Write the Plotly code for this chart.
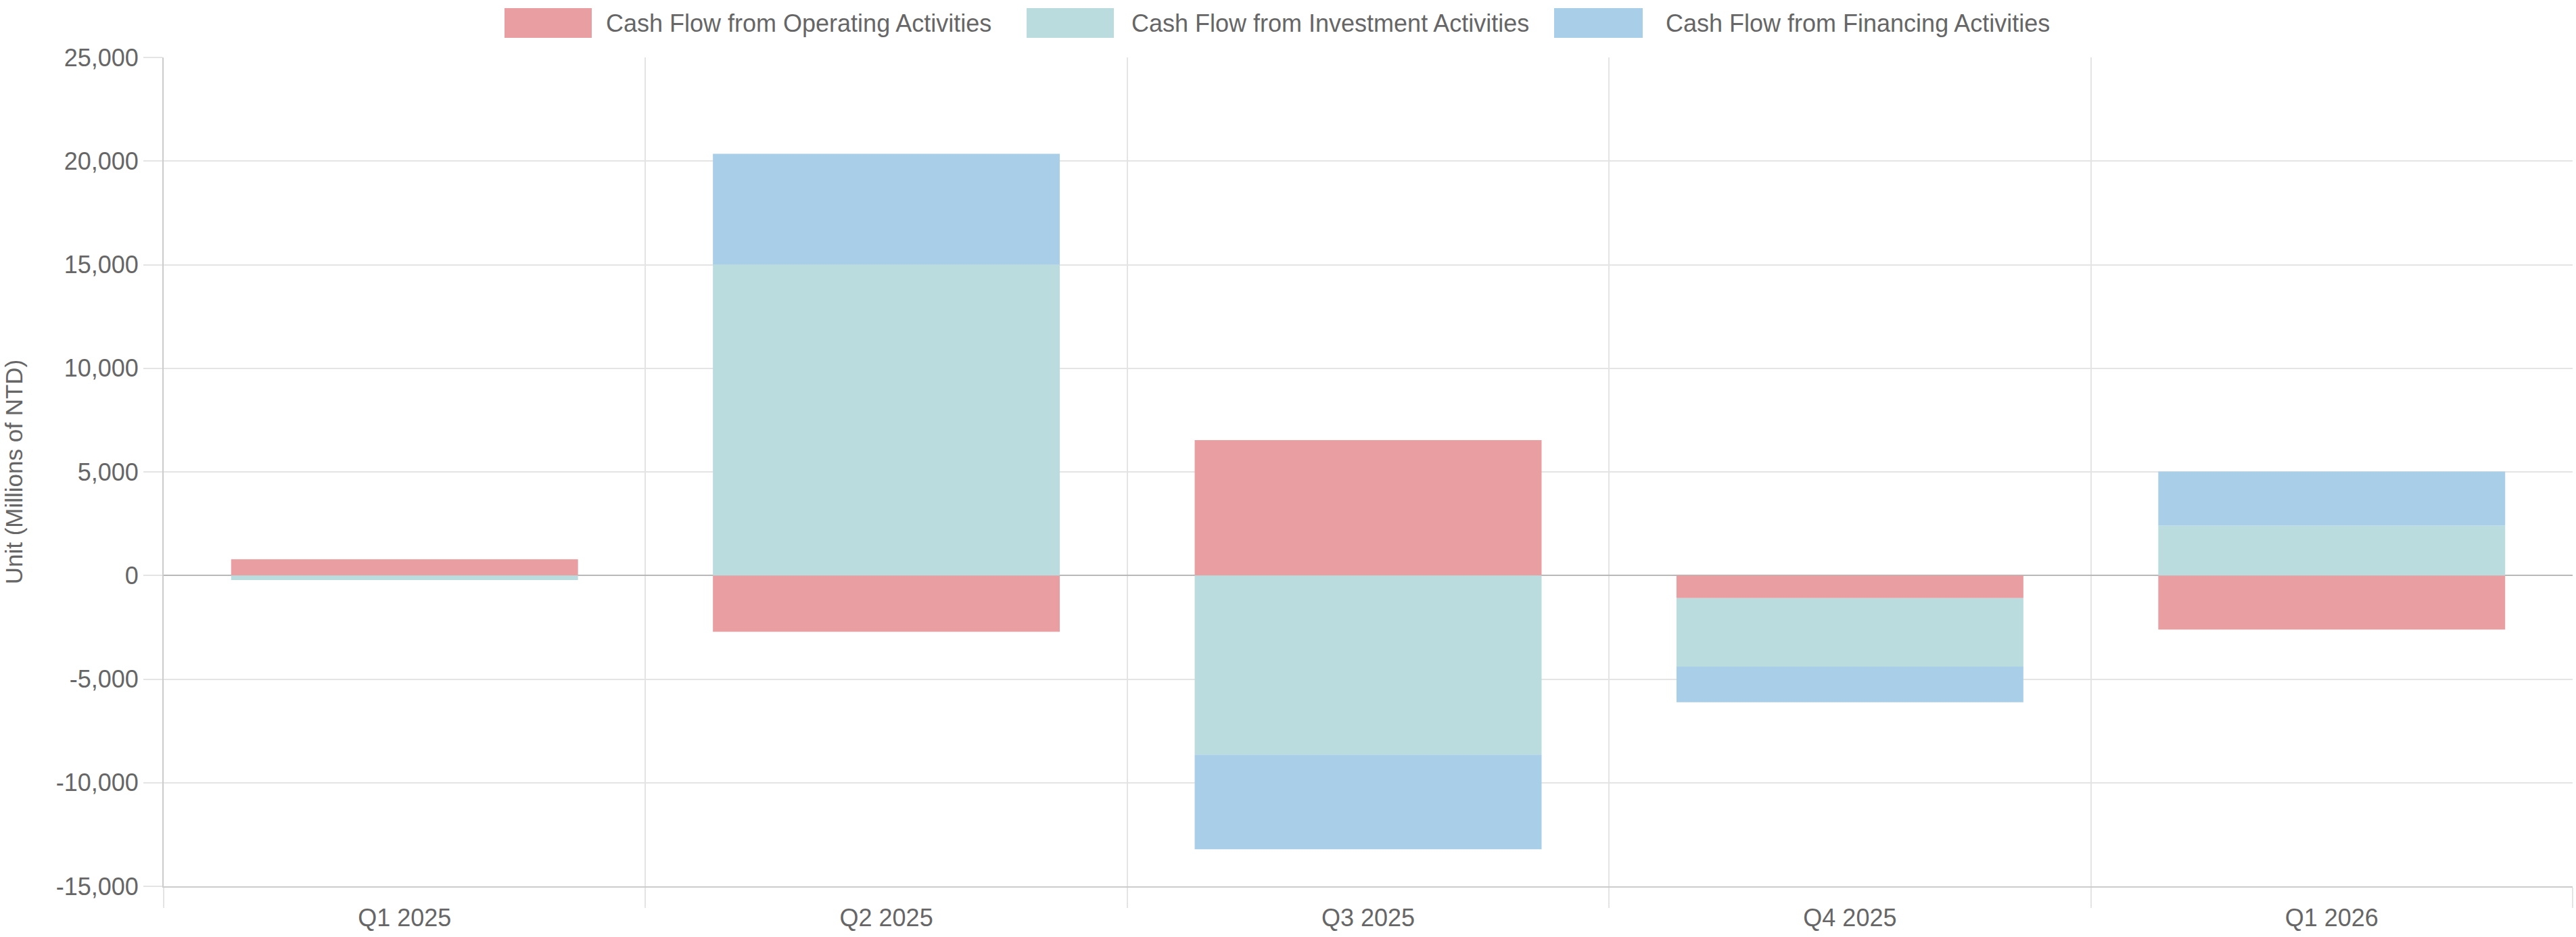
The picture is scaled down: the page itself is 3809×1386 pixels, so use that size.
import plotly.graph_objects as go

# ---- data (millions of NTD) ----
categories = ["Q1 2025", "Q2 2025", "Q3 2025", "Q4 2025", "Q1 2026"]
operating = [780, -2720, 6530, -1090, -2610]
investment = [-220, 15000, -8650, -3310, 2410]
financing = [0, 5350, -4560, -1720, 2610]

series_names = [
    "Cash Flow from Operating Activities",
    "Cash Flow from Investment Activities",
    "Cash Flow from Financing Activities",
]
series_values = [operating, investment, financing]
colors = ["#E99EA2", "#BADCDE", "#A8CEE8"]

y_ticks = list(range(-15000, 25001, 5000))

# ---- layout geometry ----
W, H = 3809, 1386
L, R, T, B = 242, 5, 85, 75
PW, PH = W - L - R, H - T - B
FONT = "Liberation Sans, Arial, Helvetica, sans-serif"
TXT = "#666666"
GRID = "#e4e4e4"


def px_x(px):
    return (px - L) / PW


def px_y(py):
    return (H - B - py) / PH


xs = list(range(len(categories)))

fig = go.Figure()
for name, vals, col in zip(series_names, series_values, colors):
    fig.add_trace(go.Bar(
        x=xs, y=vals, name=name,
        marker=dict(color=col, line=dict(width=0)),
        showlegend=False,
    ))

fig.update_layout(
    width=W, height=H,
    margin=dict(l=L, r=R, t=T, b=B, autoexpand=False),
    barmode="relative",
    bargap=0.28,
    plot_bgcolor="white",
    paper_bgcolor="white",
    font=dict(family=FONT, size=36, color=TXT),
    showlegend=False,
)

fig.update_xaxes(
    range=[-0.5, len(categories) - 0.5],
    tickmode="array", tickvals=xs, ticktext=categories,
    ticks="outside", ticklen=14, tickcolor="rgba(0,0,0,0)",
    showgrid=False, zeroline=False,
    showline=True, linecolor="#cccccc", linewidth=2,
    tickfont=dict(size=36, color=TXT),
    minor=dict(tick0=-0.5, dtick=1, showgrid=True, gridcolor=GRID, gridwidth=2,
               ticks="outside", ticklen=30, tickcolor=GRID, tickwidth=2),
    automargin=False,
)

fig.update_yaxes(
    range=[-15000, 25000],
    tickmode="array", tickvals=y_ticks,
    ticktext=[f"{v:,}" for v in y_ticks],
    ticks="outside", ticklen=28, tickcolor=GRID, tickwidth=2,
    showgrid=True, gridcolor=GRID, gridwidth=2,
    zeroline=True, zerolinecolor="#b8b8b8", zerolinewidth=2,
    showline=True, linecolor="#cccccc", linewidth=2,
    tickfont=dict(size=36, color=TXT),
    title=dict(text="Unit (Millions of NTD)", font=dict(size=35, color=TXT), standoff=38),
    automargin=False,
)

# ---- custom legend (wide boxes like the original) ----
legend_boxes = [(746, 875, 894), (1518, 1647, 1671), (2298, 2429, 2461)]
for (x0, x1, tx), name, col in zip(legend_boxes, series_names, colors):
    fig.add_shape(type="rect", xref="paper", yref="paper",
                  x0=px_x(x0), x1=px_x(x1), y0=px_y(56), y1=px_y(12),
                  fillcolor=col, line=dict(width=0), layer="above")
    fig.add_annotation(xref="paper", yref="paper", x=px_x(tx), y=px_y(34),
                       text=name, showarrow=False, xanchor="left", yanchor="middle",
                       font=dict(size=36, color=TXT, family=FONT))

fig.write_html(
    "out.html",
    config={"displayModeBar": False},
    post_script="document.body.style.margin='0';document.body.style.overflow='hidden';",
)
